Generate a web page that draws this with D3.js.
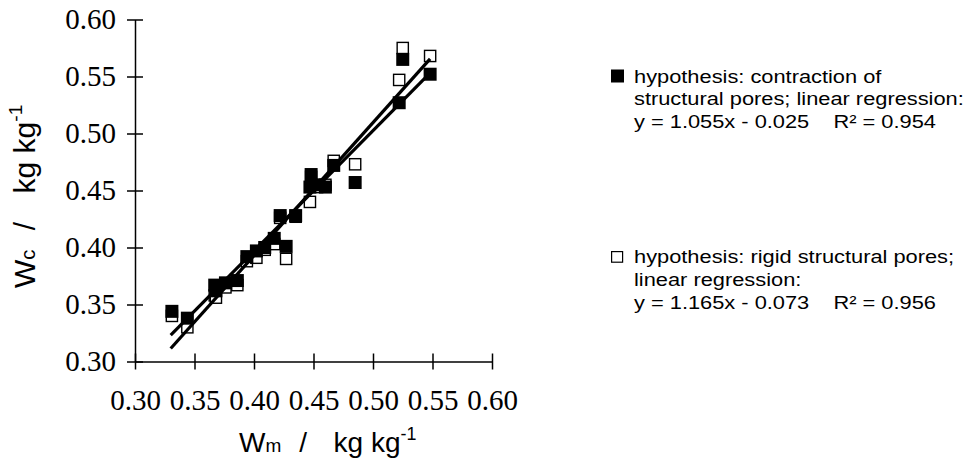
<!DOCTYPE html>
<meta charset="utf-8">
<title>Wc vs Wm</title>
<style>
  body { margin: 0; background: #fff; }
  text { fill: #000; }
</style>
<body>
<script src="https://d3js.org/d3.v7.min.js"></script>
<script>

// measured water content Wm and computed Wc for both hypotheses
var wm = [0.331, 0.344, 0.367, 0.368, 0.376, 0.386, 0.394, 0.402, 0.409, 0.417, 0.422,
          0.427, 0.435, 0.447, 0.448, 0.453, 0.460, 0.467, 0.485, 0.522, 0.525, 0.548];
var wcContraction = [0.344, 0.338, 0.367, 0.362, 0.369, 0.371, 0.392, 0.397, 0.400, 0.408, 0.428,
                     0.401, 0.428, 0.453, 0.464, 0.455, 0.453, 0.472, 0.457, 0.527, 0.565, 0.552];
var wcRigid = [0.340, 0.330, 0.358, 0.356, 0.365, 0.367, 0.388, 0.391, 0.398, 0.403, 0.426,
               0.390, 0.427, 0.440, 0.462, 0.453, 0.455, 0.476, 0.473, 0.547, 0.575, 0.568];

// regression fits: y = slope*x + intercept
var fitSlope = [1.055, 1.165];
var fitIntercept = [-0.025, -0.073];
var fitRange = [0.33, 0.548];

var xTicks = [0.30, 0.35, 0.40, 0.45, 0.50, 0.55, 0.60];
var yTicks = [0.30, 0.35, 0.40, 0.45, 0.50, 0.55, 0.60];

var legendLines = [
  ["hypothesis: contraction of", "structural pores; linear regression:", "y = 1.055x - 0.025    R\u00b2 = 0.954"],
  ["hypothesis: rigid structural pores;", "linear regression:", "y = 1.165x - 0.073    R\u00b2 = 0.956"]
];

var width = 968, height = 461;
var serif = "'Liberation Serif', 'Times New Roman', serif";
var sans = "'Liberation Sans', Arial, sans-serif";

var svg = d3.select('body').append('svg')
    .attr('width', width)
    .attr('height', height);

var x = d3.scaleLinear().domain([0.30, 0.60]).range([135, 492]);
var y = d3.scaleLinear().domain([0.30, 0.60]).range([361.5, 19.5]);

// axes, ticks cross the axis line
var xAxis = svg.append('g')
    .attr('transform', 'translate(0,' + y(0.30) + ')')
    .call(d3.axisBottom(x).tickValues(xTicks).tickFormat(d3.format('.2f'))
      .tickSizeInner(8).tickSizeOuter(0).tickPadding(20));
xAxis.selectAll('.tick line').attr('y1', -8);

var yAxis = svg.append('g')
    .attr('transform', 'translate(' + x(0.30) + ',0)')
    .call(d3.axisLeft(y).tickValues(yTicks).tickFormat(d3.format('.2f'))
      .tickSizeInner(8).tickSizeOuter(0).tickPadding(11));
yAxis.selectAll('.tick line').attr('x1', 8);

svg.selectAll('.domain, .tick line')
    .attr('stroke', '#000')
    .attr('stroke-width', 1.5);
svg.selectAll('.tick text')
    .attr('fill', '#000')
    .style('font-family', serif)
    .style('font-size', '29px');

// axis titles
function axisTitle(sel, sub, size) {
  var t = sel.append('text')
      .style('font-family', sans)
      .style('font-size', size + 'px');
  t.append('tspan').text('W');
  t.append('tspan').style('font-size', (size * 0.68) + 'px').text(sub);
  t.append('tspan').attr('dx', size * 0.64).text('/');
  t.append('tspan').attr('dx', size * 0.95).text('kg kg');
  t.append('tspan').attr('dy', -size * 0.43).style('font-size', (size * 0.64) + 'px').text('-1');
  return t;
}
axisTitle(svg.append('g').attr('transform', 'translate(239,452)'), 'm', 28);
axisTitle(svg.append('g').attr('transform', 'translate(35,288) rotate(-90)'), 'c', 30);

// markers
var pts = wm.map(function (d, i) { return {x: d, c: wcContraction[i], r: wcRigid[i]}; });

svg.append('g').selectAll('rect')
    .data(pts)
    .enter().append('rect')
      .attr('x', function (d) { return x(d.x) - 5.6; })
      .attr('y', function (d) { return y(d.r) - 5.6; })
      .attr('width', 11.2)
      .attr('height', 11.2)
      .attr('fill', '#fff')
      .attr('stroke', '#000')
      .attr('stroke-width', 1.4);

svg.append('g').selectAll('rect')
    .data(pts)
    .enter().append('rect')
      .attr('x', function (d) { return x(d.x) - 6.5; })
      .attr('y', function (d) { return y(d.c) - 6.5; })
      .attr('width', 13)
      .attr('height', 13)
      .attr('fill', '#000');

// regression lines
var line = d3.line()
    .x(function (d) { return x(d[0]); })
    .y(function (d) { return y(d[1]); });

svg.append('g').selectAll('path')
    .data(fitSlope)
    .enter().append('path')
      .attr('d', function (s, i) {
        return line(fitRange.map(function (v) { return [v, s * v + fitIntercept[i]]; }));
      })
      .attr('fill', 'none')
      .attr('stroke', '#000')
      .attr('stroke-width', 3.2);

// legend
var legendTop = [82.5, 263];
legendLines.forEach(function (lines, i) {
  var g = svg.append('g').attr('transform', 'translate(611,' + legendTop[i] + ')');
  if (i === 0) {
    g.append('rect').attr('x', 0).attr('y', -13).attr('width', 13).attr('height', 13).attr('fill', '#000');
  } else {
    g.append('rect').attr('x', 0.6).attr('y', -11.4).attr('width', 11).attr('height', 10.6)
      .attr('fill', '#fff').attr('stroke', '#000').attr('stroke-width', 1.2);
  }
  g.selectAll('text')
    .data(lines)
    .enter().append('text')
      .attr('transform', function (d, j) { return 'translate(23,' + (j * 22.8) + ') scale(1.18,1)'; })
      .style('font-family', sans)
      .style('font-size', '18.5px')
      .style('white-space', 'pre')
      .text(function (d) { return d; });
});

</script>
</body>
</html>
